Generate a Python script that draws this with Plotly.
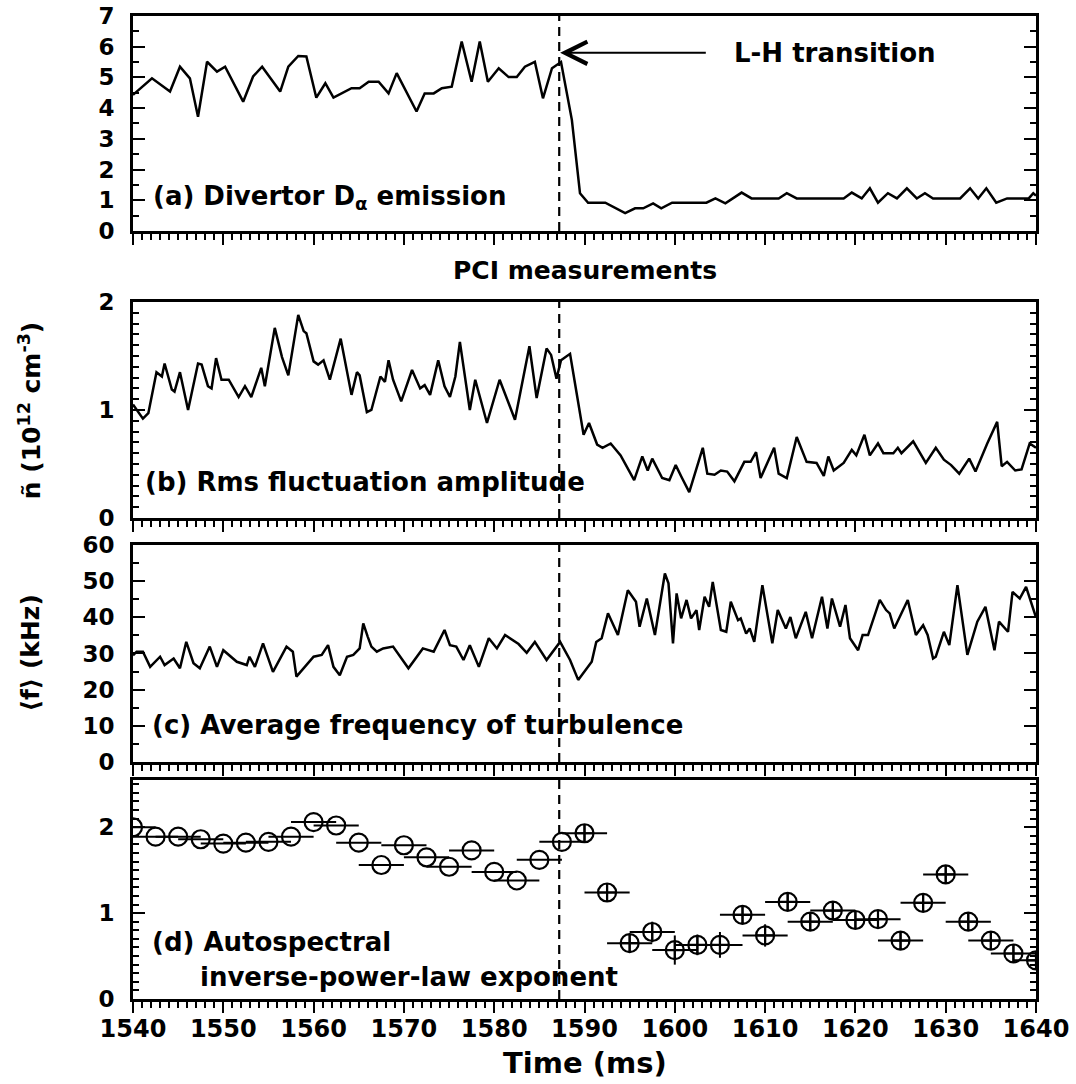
import plotly.graph_objects as go

# ---------------- data ----------------
t_LH = 1587.2

# (a) Divertor D-alpha emission
t_a = [1540.0, 1542.1, 1544.1, 1545.2, 1546.3, 1547.2, 1548.2, 1549.3, 1550.2, 1552.2,
       1553.3, 1554.3, 1556.3, 1557.2, 1558.3, 1559.2, 1560.3, 1561.3, 1562.2, 1564.2,
       1565.1, 1566.1, 1567.2, 1568.3, 1569.2, 1571.4, 1572.3, 1573.3, 1574.2, 1575.3,
       1576.4, 1577.5, 1578.4, 1579.3, 1580.5, 1581.6, 1582.5, 1583.4, 1584.5, 1585.4,
       1586.4, 1587.4, 1588.6, 1589.5, 1590.4, 1592.3, 1594.5, 1595.6, 1596.5, 1597.6,
       1598.5, 1599.7, 1603.5, 1604.5, 1605.6, 1607.4, 1608.5, 1611.5, 1612.4, 1613.5,
       1618.7, 1619.6, 1620.7, 1621.6, 1622.5, 1623.6, 1624.6, 1625.7, 1626.8, 1627.7,
       1628.6, 1631.6, 1632.7, 1633.6, 1634.5, 1635.6, 1636.8, 1639.2, 1639.7, 1640.0]
v_a = [4.43, 4.97, 4.54, 5.35, 4.97, 3.72, 5.51, 5.19, 5.35, 4.21,
       5.03, 5.35, 4.54, 5.35, 5.70, 5.68, 4.34, 4.81, 4.34, 4.65,
       4.65, 4.86, 4.86, 4.48, 5.14, 3.89, 4.48, 4.48, 4.65, 4.70,
       6.17, 4.86, 6.17, 4.86, 5.30, 5.01, 5.01, 5.35, 5.51, 4.32,
       5.30, 5.50, 3.62, 1.23, 0.92, 0.92, 0.58, 0.74, 0.74, 0.90,
       0.74, 0.92, 0.92, 1.06, 0.90, 1.25, 1.06, 1.06, 1.23, 1.06,
       1.06, 1.25, 1.06, 1.39, 0.92, 1.23, 1.06, 1.39, 1.06, 1.23,
       1.06, 1.06, 1.39, 1.06, 1.39, 0.92, 1.06, 1.06, 1.23, 1.15]

# (b) Rms fluctuation amplitude
t_b = [1540.0, 1540.4, 1541.1, 1541.7, 1542.6, 1543.2, 1543.5, 1544.3, 1544.6, 1545.2,
       1546.1, 1547.2, 1547.6, 1548.3, 1548.7, 1549.2, 1549.8, 1550.6, 1551.7, 1552.4,
       1553.1, 1554.2, 1554.6, 1555.7, 1556.5, 1557.2, 1558.3, 1558.9, 1559.2, 1560.0,
       1560.5, 1561.1, 1561.8, 1563.0, 1564.2, 1564.8, 1565.1, 1565.9, 1566.4, 1567.4,
       1567.9, 1568.3, 1568.8, 1569.7, 1570.9, 1571.8, 1572.3, 1572.9, 1573.8, 1574.5,
       1575.1, 1575.7, 1576.2, 1577.3, 1577.9, 1579.2, 1580.6, 1582.3, 1583.9, 1584.7,
       1585.8, 1586.3, 1586.9, 1587.4, 1588.4, 1589.2, 1589.9, 1590.5, 1591.4, 1592.0,
       1592.9, 1594.0, 1595.5, 1596.4, 1597.0, 1597.5, 1598.6, 1599.4, 1600.1, 1600.8,
       1601.6, 1603.1, 1603.6, 1604.4, 1605.1, 1605.8, 1606.6, 1607.7, 1608.4, 1609.0,
       1609.5, 1611.0, 1611.5, 1612.4, 1613.5, 1614.6, 1615.7, 1616.5, 1617.0, 1617.6,
       1618.7, 1619.6, 1620.1, 1621.0, 1621.6, 1622.5, 1623.1, 1624.2, 1624.7, 1625.1,
       1626.4, 1627.8, 1628.9, 1629.8, 1630.6, 1631.5, 1632.6, 1633.3, 1634.6, 1635.7,
       1636.2, 1636.8, 1637.7, 1638.4, 1639.3, 1640.0]
v_b = [1.05, 1.00, 0.92, 0.97, 1.35, 1.31, 1.43, 1.19, 1.17, 1.35,
       1.00, 1.43, 1.42, 1.22, 1.20, 1.48, 1.28, 1.28, 1.12, 1.22,
       1.12, 1.39, 1.22, 1.76, 1.49, 1.32, 1.88, 1.73, 1.71, 1.45,
       1.42, 1.46, 1.28, 1.66, 1.14, 1.35, 1.32, 0.98, 1.00, 1.31,
       1.26, 1.46, 1.28, 1.08, 1.37, 1.20, 1.23, 1.14, 1.46, 1.22,
       1.12, 1.31, 1.63, 1.00, 1.28, 0.88, 1.28, 0.91, 1.59, 1.11,
       1.57, 1.51, 1.29, 1.46, 1.52, 1.12, 0.77, 0.88, 0.68, 0.65,
       0.69, 0.58, 0.35, 0.57, 0.44, 0.55, 0.37, 0.35, 0.49, 0.37,
       0.24, 0.65, 0.41, 0.40, 0.44, 0.43, 0.34, 0.52, 0.52, 0.61,
       0.37, 0.65, 0.41, 0.37, 0.75, 0.52, 0.51, 0.39, 0.57, 0.44,
       0.51, 0.63, 0.58, 0.77, 0.58, 0.69, 0.60, 0.60, 0.65, 0.60,
       0.71, 0.51, 0.65, 0.54, 0.49, 0.41, 0.55, 0.43, 0.69, 0.89,
       0.48, 0.52, 0.44, 0.45, 0.69, 0.65]

# (c) Average frequency of turbulence (kHz)
t_c = [1540.0, 1540.4, 1541.1, 1541.9, 1543.0, 1543.5, 1544.5, 1545.2, 1545.9, 1546.7,
       1547.4, 1548.5, 1549.3, 1550.0, 1551.5, 1552.6, 1552.9, 1553.5, 1554.4, 1555.5,
       1557.0, 1557.7, 1558.1, 1558.9, 1560.0, 1560.9, 1561.6, 1562.2, 1562.9, 1563.7,
       1564.4, 1565.1, 1565.5, 1566.0, 1566.4, 1567.0, 1567.7, 1568.8, 1569.6, 1570.5,
       1572.1, 1573.3, 1574.5, 1575.1, 1575.8, 1576.6, 1577.3, 1578.3, 1579.4, 1580.3,
       1581.2, 1582.7, 1583.6, 1584.5, 1585.8, 1587.3, 1588.4, 1589.3, 1590.8, 1591.3,
       1591.9, 1592.6, 1593.7, 1594.8, 1595.7, 1596.1, 1596.9, 1597.8, 1598.9, 1599.3,
       1599.8, 1600.2, 1600.7, 1601.3, 1601.8, 1602.4, 1602.7, 1603.3, 1603.8, 1604.2,
       1605.1, 1605.7, 1606.2, 1607.0, 1607.3, 1607.9, 1608.3, 1608.8, 1609.7, 1610.8,
       1611.4, 1612.3, 1612.8, 1613.4, 1614.5, 1615.2, 1616.3, 1616.9, 1617.4, 1618.3,
       1618.9, 1619.4, 1620.3, 1620.8, 1621.4, 1622.7, 1623.4, 1623.8, 1624.3, 1625.8,
       1626.7, 1627.5, 1628.0, 1628.6, 1628.9, 1629.8, 1630.4, 1631.3, 1632.4, 1633.5,
       1634.4, 1635.4, 1635.9, 1636.9, 1637.4, 1638.2, 1638.9, 1639.8, 1640.0]
v_c = [29.5, 30.5, 30.5, 26.3, 29.1, 26.8, 28.6, 25.9, 33.2, 27.3,
       25.9, 31.9, 26.3, 30.9, 27.7, 26.8, 29.1, 26.3, 32.8, 24.9,
       31.9, 30.5, 23.6, 25.9, 29.1, 29.6, 32.3, 26.3, 24.0, 29.1,
       29.6, 31.4, 38.3, 34.6, 31.9, 30.5, 31.4, 31.9, 29.1, 25.9,
       31.4, 30.5, 36.5, 32.3, 31.9, 28.2, 32.3, 26.3, 34.2, 31.4,
       35.1, 32.6, 30.2, 33.2, 28.2, 33.2, 28.2, 22.7, 27.7, 33.2,
       34.2, 41.1, 35.1, 47.5, 44.3, 37.4, 45.2, 35.1, 52.1, 49.4,
       32.8, 46.6, 39.7, 44.8, 39.7, 42.0, 36.5, 45.7, 42.9, 49.8,
       36.5, 36.0, 44.3, 39.2, 39.7, 35.5, 36.9, 33.2, 48.9, 32.8,
       42.0, 36.9, 40.1, 34.2, 41.5, 34.2, 45.7, 36.9, 45.2, 37.4,
       43.4, 34.2, 30.9, 35.1, 35.1, 44.8, 42.0, 41.1, 36.9, 44.8,
       35.1, 37.8, 35.1, 28.6, 29.1, 36.0, 32.3, 48.9, 29.6, 38.8,
       42.9, 30.9, 38.8, 36.0, 47.0, 45.2, 48.4, 42.0, 40.0]

# (d) Autospectral inverse-power-law exponent
t_d_L = [1540.0, 1542.5, 1545.0, 1547.5, 1550.0, 1552.5, 1555.0, 1557.5, 1560.0, 1562.5,
         1565.0, 1567.5, 1570.0, 1572.5, 1575.0, 1577.5, 1580.0, 1582.5, 1585.0, 1587.5]
v_d_L = [2.00, 1.89, 1.89, 1.86, 1.81, 1.82, 1.83, 1.89, 2.06, 2.02,
         1.82, 1.56, 1.79, 1.65, 1.54, 1.73, 1.48, 1.38, 1.62, 1.83]
t_d_H = [1590.0, 1592.5, 1595.0, 1597.5, 1600.0, 1602.5, 1605.0, 1607.5, 1610.0, 1612.5,
         1615.0, 1617.5, 1620.0, 1622.5, 1625.0, 1627.5, 1630.0, 1632.5, 1635.0, 1637.5,
         1640.0]
v_d_H = [1.93, 1.24, 0.65, 0.78, 0.57, 0.63, 0.63, 0.98, 0.74, 1.13,
         0.90, 1.03, 0.92, 0.93, 0.68, 1.12, 1.45, 0.90, 0.68, 0.53,
         0.45]
e_d_H = [0.10, 0.10, 0.10, 0.12, 0.17, 0.12, 0.15, 0.10, 0.13, 0.10,
         0.10, 0.10, 0.10, 0.10, 0.10, 0.10, 0.10, 0.10, 0.10, 0.10,
         0.10]
bin_half = 2.5

x_range = [1540, 1640]
x_ticks = [1540, 1550, 1560, 1570, 1580, 1590, 1600, 1610, 1620, 1630, 1640]

# ---------------- figure ----------------
FONT = "DejaVu Sans"
BLACK = "black"
fig = go.Figure()

line_style = dict(color=BLACK, width=2.5)
fig.add_trace(go.Scatter(x=t_a, y=v_a, mode="lines", line=line_style, xaxis="x", yaxis="y"))
fig.add_trace(go.Scatter(x=t_b, y=v_b, mode="lines", line=line_style, xaxis="x2", yaxis="y2"))
fig.add_trace(go.Scatter(x=t_c, y=v_c, mode="lines", line=line_style, xaxis="x3", yaxis="y3"))
fig.add_trace(go.Scatter(
    x=t_d_L, y=v_d_L, mode="markers", xaxis="x4", yaxis="y4",
    marker=dict(symbol="circle-open", size=18, color=BLACK, line=dict(width=2.2, color=BLACK)),
    error_x=dict(type="constant", value=bin_half, thickness=2, width=0, color=BLACK)))
fig.add_trace(go.Scatter(
    x=t_d_H, y=v_d_H, mode="markers", xaxis="x4", yaxis="y4",
    marker=dict(symbol="circle-cross-open", size=18, color=BLACK, line=dict(width=2.2, color=BLACK)),
    error_x=dict(type="constant", value=bin_half, thickness=2, width=0, color=BLACK),
    error_y=dict(type="data", array=e_d_H, thickness=2, width=0, color=BLACK)))

domains = {1: [0.7813, 1.0], 2: [0.4893, 0.7091], 3: [0.2411, 0.4619], 4: [0.0, 0.2228]}
yranges = {1: [0, 7], 2: [0, 2], 3: [0, 60], 4: [0, 2.55]}
ydticks = {1: 1, 2: 1, 3: 10, 4: 1}
yminor = {1: 0.5, 2: 0.1, 3: 5, 4: 0.1}

tickfont_x = dict(family=FONT, size=24, color=BLACK, weight="bold")
tickfont_y = dict(family=FONT, size=23, color=BLACK, weight="bold")

layout = dict(
    width=1076, height=1084, autosize=False,
    margin=dict(l=133, r=40, t=16, b=85),
    paper_bgcolor="white", plot_bgcolor="white",
    showlegend=False,
    font=dict(family=FONT, color=BLACK),
)

for i in range(1, 5):
    sfx = "" if i == 1 else str(i)
    layout[f"xaxis{sfx}"] = dict(
        domain=[0, 1], range=x_range, anchor=f"y{sfx}", automargin=False,
        showline=True, linewidth=3, linecolor=BLACK, mirror=True,
        ticks="outside", ticklen=11, tickwidth=2, tickcolor=BLACK,
        tickvals=x_ticks, ticktext=[str(v) for v in x_ticks],
        minor=dict(dtick=1, tick0=1540, ticks="outside", ticklen=6, tickwidth=1.5, tickcolor=BLACK),
        showgrid=False, zeroline=False,
        showticklabels=(i == 4), tickfont=tickfont_x, ticklabelstandoff=-5,
    )
    layout[f"xaxis{i + 4}"] = dict(
        overlaying=f"x{sfx}", anchor=f"y{sfx}", side="top", range=x_range, automargin=False,
        showline=False, ticks="inside", ticklen=12, tickwidth=2, tickcolor=BLACK,
        tickvals=x_ticks,
        minor=dict(dtick=1, tick0=1540, ticks="inside", ticklen=6, tickwidth=1.5, tickcolor=BLACK),
        showgrid=False, zeroline=False, showticklabels=False,
    )
    layout[f"yaxis{sfx}"] = dict(
        domain=domains[i], range=yranges[i], anchor=f"x{sfx}", automargin=False,
        showline=True, linewidth=3, linecolor=BLACK, mirror="ticks",
        ticks="inside", ticklen=12, tickwidth=2, tickcolor=BLACK,
        dtick=ydticks[i], tick0=0,
        minor=dict(dtick=yminor[i], tick0=0, ticks="inside", ticklen=6, tickwidth=1.5, tickcolor=BLACK),
        showgrid=False, zeroline=False,
        tickfont=tickfont_y, ticklabelstandoff=11,
    )

fig.update_layout(**layout)

# dashed L-H transition line in every panel
for i in range(1, 5):
    sfx = "" if i == 1 else str(i)
    fig.add_shape(type="line", xref=f"x{sfx}", yref=f"y{sfx} domain",
                  x0=t_LH, x1=t_LH, y0=0, y1=1,
                  line=dict(color=BLACK, width=2.2, dash="9px,6px"))

ann_font = dict(family=FONT, size=26, color=BLACK, weight="bold")
annotations = [
    dict(x=1542.0, y=1.1, xref="x", yref="y", text="(a) Divertor D<sub>α</sub> emission",
         showarrow=False, xanchor="left", yanchor="middle", font=ann_font),
    dict(x=1606.3, y=5.8, xref="x", yref="y", text="L-H transition",
         showarrow=False, xanchor="left", yanchor="middle", font=ann_font),
    dict(x=t_LH + 0.1, y=5.8, xref="x", yref="y", ax=1603.6, ay=5.8, axref="x", ayref="y",
         text="", showarrow=True, arrowhead=5, arrowsize=2.2, arrowwidth=2, arrowcolor=BLACK),
    dict(x=1541.1, y=0.33, xref="x2", yref="y2", text="(b) Rms fluctuation amplitude",
         showarrow=False, xanchor="left", yanchor="middle", font=ann_font),
    dict(x=1541.9, y=10.2, xref="x3", yref="y3", text="(c) Average frequency of turbulence",
         showarrow=False, xanchor="left", yanchor="middle", font=ann_font),
    dict(x=1541.9, y=0.66, xref="x4", yref="y4", text="(d) Autospectral",
         showarrow=False, xanchor="left", yanchor="middle", font=ann_font),
    dict(x=1547.2, y=0.26, xref="x4", yref="y4", text="inverse-power-law exponent",
         showarrow=False, xanchor="left", yanchor="middle", font=ann_font),
    dict(x=0.5006, y=0.7416, xref="paper", yref="paper", text="PCI measurements",
         showarrow=False, xanchor="center", yanchor="middle",
         font=dict(family=FONT, size=25, color=BLACK, weight="bold")),
    dict(x=0.5006, y=-0.065, xref="paper", yref="paper", text="Time (ms)",
         showarrow=False, xanchor="center", yanchor="middle",
         font=dict(family=FONT, size=29, color=BLACK, weight="bold")),
    dict(x=-0.114, y=0.599, xref="paper", yref="paper",
         text="ñ (10<sup>12</sup> cm<sup>-3</sup>)", textangle=-90,
         showarrow=False, xanchor="center", yanchor="middle",
         font=dict(family=FONT, size=25, color=BLACK, weight="bold")),
    dict(x=-0.114, y=0.3515, xref="paper", yref="paper",
         text="⟨f⟩ (kHz)", textangle=-90,
         showarrow=False, xanchor="center", yanchor="middle",
         font=dict(family=FONT, size=25, color=BLACK, weight="bold")),
]
fig.update_layout(annotations=annotations)

fig.write_html("out.html",
               config={"displayModeBar": False},
               post_script="document.body.style.margin='0';document.body.style.overflow='hidden';")
